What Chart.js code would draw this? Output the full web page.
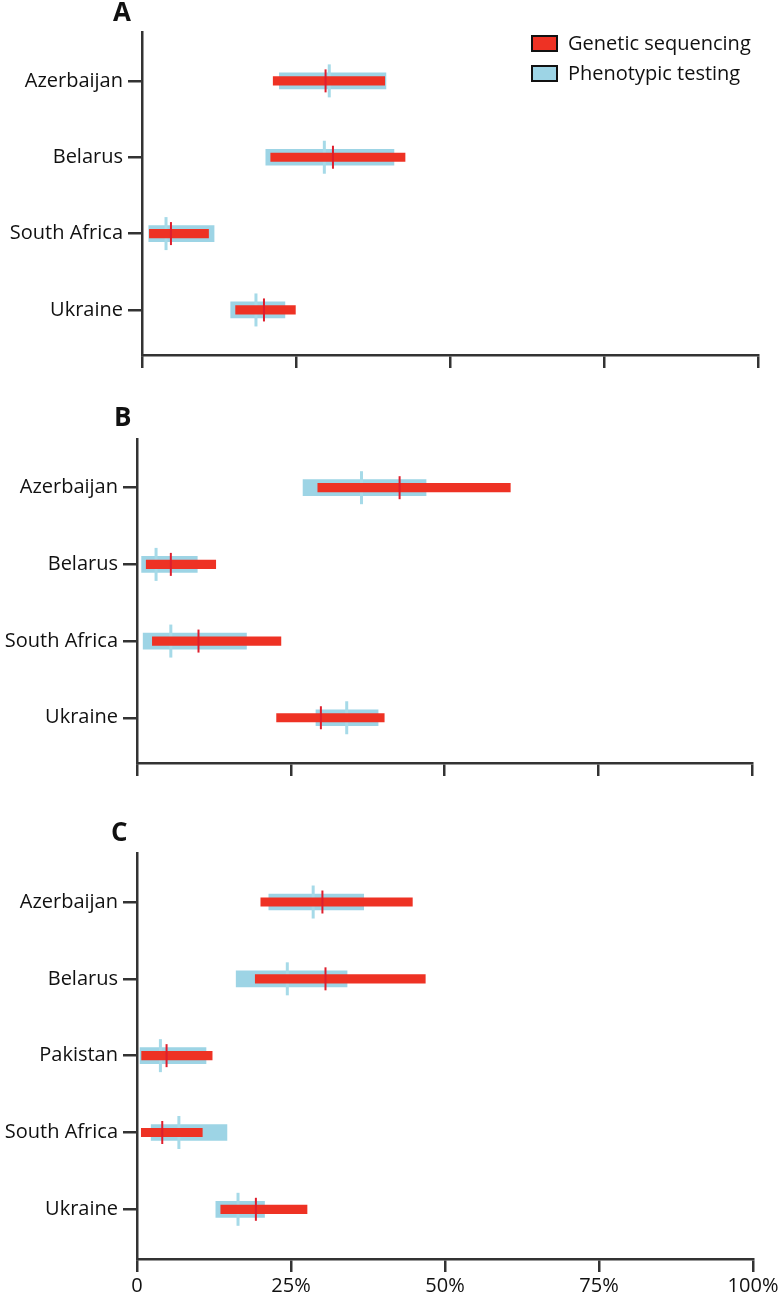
<!DOCTYPE html>
<html>
<head>
<meta charset="utf-8">
<script src="https://cdn.jsdelivr.net/npm/chart.js@4.4.1/dist/chart.umd.min.js"></script>
<style>
  html, body { margin: 0; padding: 0; background: #fff; }
  body { width: 780px; height: 1296px; position: relative; overflow: hidden; font-family: "Open Sans", sans-serif; color: #111; }
  canvas { position: absolute; left: 0; }
  .panel-letter { position: absolute; font-weight: 700; font-size: 26px; line-height: 26px; }
  .legend { position: absolute; left: 531px; top: 34px; }
  .legend-row { display: flex; align-items: center; height: 18px; margin-bottom: 12px; font-size: 20px; line-height: 18px; }
  .swatch { width: 23px; height: 13px; border: 2.5px solid #111; margin-right: 10px; }
</style>
</head>
<body>
<canvas id="chartA" width="800" height="380" style="top:0"></canvas>
<canvas id="chartB" width="800" height="420" style="top:380px"></canvas>
<canvas id="chartC" width="800" height="496" style="top:800px"></canvas>

<div class="panel-letter" style="left:113px;top:-2px">A</div>
<div class="panel-letter" style="left:114px;top:403px">B</div>
<div class="panel-letter" style="left:111px;top:818px">C</div>

<div class="legend">
  <div class="legend-row"><span class="swatch" style="background:rgb(238,50,36)"></span>Genetic sequencing</div>
  <div class="legend-row"><span class="swatch" style="background:rgb(157,212,229)"></span>Phenotypic testing</div>
</div>

<script>
// x axis (percent)
const xTicks = [0, 25, 50, 75, 100];
const xTickLabels = ["0", "25%", "50%", "75%", "100%"];

// Panel A
const countriesA = ["Azerbaijan", "Belarus", "South Africa", "Ukraine"];
const phenoLowA = [22.3, 20.1, 1.1, 14.4];
const phenoHighA = [39.6, 40.9, 11.7, 23.2];
const phenoEstA = [30.4, 29.6, 3.9, 18.5];
const geneLowA = [21.3, 20.9, 1.2, 15.2];
const geneHighA = [39.4, 42.7, 10.8, 24.9];
const geneEstA = [29.8, 31.0, 4.7, 19.8];

// Panel B
const countriesB = ["Azerbaijan", "Belarus", "South Africa", "Ukraine"];
const phenoLowB = [27.0, 0.75, 1.0, 29.1];
const phenoHighB = [47.0, 9.8, 17.8, 39.2];
const phenoEstB = [36.5, 3.1, 5.5, 34.1];
const geneLowB = [29.4, 1.5, 2.5, 22.7];
const geneHighB = [60.7, 12.8, 23.4, 40.2];
const geneEstB = [42.7, 5.5, 10.0, 29.9];

// Panel C
const countriesC = ["Azerbaijan", "Belarus", "Pakistan", "South Africa", "Ukraine"];
const phenoLowC = [21.4, 16.1, 0.5, 2.3, 12.8];
const phenoHighC = [36.8, 34.1, 11.2, 14.6, 20.7];
const phenoEstC = [28.6, 24.4, 3.8, 6.8, 16.4];
const geneLowC = [20.1, 19.2, 0.75, 0.7, 13.6];
const geneHighC = [44.7, 46.8, 12.2, 10.6, 27.6];
const geneEstC = [30.1, 30.6, 4.8, 4.1, 19.3];

const RED = "rgb(238, 50, 36)";
const RED_TICK = "rgb(222, 30, 45)";
const BLUE = "rgb(157, 212, 229)";
const BLUE_TICK = "rgb(166, 218, 232)";
const AXIS = "#333333";
const FONT = "'Open Sans', sans-serif";

function rangeData(lo, hi) {
    return lo.map((v, i) => ({ x: [v, hi[i]], y: i }));
}
function estData(est) {
    return est.map((v, i) => ({ x: v, y: i }));
}

function makePanel(id, countries, pLo, pHi, pEst, gLo, gHi, gEst, layout) {
    const ctx = document.getElementById(id).getContext("2d");
    return new Chart(ctx, {
        type: "bar",
        data: {
            datasets: [
                {
                    label: "Phenotypic testing",
                    data: rangeData(pLo, pHi),
                    backgroundColor: BLUE,
                    barThickness: 16,
                    grouped: false,
                    order: 4,
                },
                {
                    type: "scatter",
                    label: "Phenotypic testing estimate",
                    data: estData(pEst),
                    pointStyle: "line",
                    pointRotation: 90,
                    pointRadius: 16.5,
                    pointBorderWidth: 3,
                    pointBorderColor: BLUE_TICK,
                    order: 3,
                },
                {
                    label: "Genetic sequencing",
                    data: rangeData(gLo, gHi),
                    backgroundColor: RED,
                    barThickness: 8.5,
                    grouped: false,
                    order: 2,
                },
                {
                    type: "scatter",
                    label: "Genetic sequencing estimate",
                    data: estData(gEst),
                    pointStyle: "line",
                    pointRotation: 90,
                    pointRadius: 11.5,
                    pointBorderWidth: 2,
                    pointBorderColor: RED_TICK,
                    order: 1,
                },
            ],
        },
        options: {
            indexAxis: "y",
            responsive: false,
            animation: false,
            events: [],
            layout: { padding: { top: layout.top, right: layout.right, bottom: 0, left: 0 } },
            plugins: {
                legend: { display: false },
                tooltip: { enabled: false },
            },
            scales: {
                x: {
                    type: "linear",
                    min: 0,
                    max: 100,
                    offset: false,
                    afterBuildTicks: (s) => { s.ticks = xTicks.map((v) => ({ value: v })); },
                    afterFit: (s) => { s.height = layout.xHeight; },
                    border: { display: true, color: AXIS, width: 2.5 },
                    grid: { offset: false, drawOnChartArea: false, drawTicks: true, tickLength: 13, color: AXIS, lineWidth: 2.5 },
                    ticks: {
                        display: layout.showX,
                        padding: 2,
                        color: "#111",
                        font: { family: FONT, size: 20 },
                        maxRotation: 0,
                        callback: (v, i) => xTickLabels[i],
                    },
                },
                y: {
                    type: "linear",
                    reverse: true,
                    offset: false,
                    min: layout.yMin,
                    max: layout.yMax,
                    afterBuildTicks: (s) => { s.ticks = countries.map((c, i) => ({ value: i })); },
                    afterFit: (s) => { s.width = layout.yWidth; },
                    border: { display: true, color: AXIS, width: 2.5 },
                    grid: { offset: false, drawOnChartArea: false, drawTicks: true, tickLength: 14, color: AXIS, lineWidth: 2.5 },
                    ticks: {
                        autoSkip: false,
                        padding: 5,
                        color: "#111",
                        font: { family: FONT, size: 20 },
                        callback: (v) => countries[v],
                    },
                },
            },
        },
    });
}

makePanel("chartA", countriesA, phenoLowA, phenoHighA, phenoEstA, geneLowA, geneHighA, geneEstA,
    { top: 32, right: 42, xHeight: 25, yWidth: 142, yMin: -0.64, yMax: 3.59, showX: false });
makePanel("chartB", countriesB, phenoLowB, phenoHighB, phenoEstB, geneLowB, geneHighB, geneEstB,
    { top: 59, right: 48, xHeight: 37, yWidth: 137, yMin: -0.635, yMax: 3.59, showX: false });
makePanel("chartC", countriesC, phenoLowC, phenoHighC, phenoEstC, geneLowC, geneHighC, geneEstC,
    { top: 53, right: 47, xHeight: 37, yWidth: 137, yMin: -0.638, yMax: 4.647, showX: true });
</script>
</body>
</html>
